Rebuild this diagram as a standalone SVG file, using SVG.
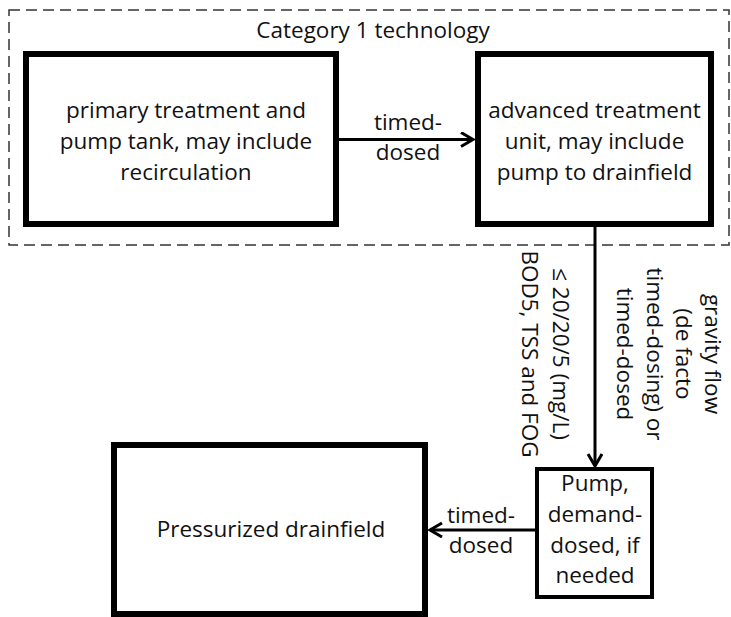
<svg xmlns="http://www.w3.org/2000/svg" width="731" height="617" viewBox="0 0 731 617">
<defs>
<style>
text{font-family:"Open Sans","Noto Sans","Liberation Sans",sans-serif;font-size:22.5px;fill:#111;text-anchor:middle}
.box{fill:#fff;stroke:#000;stroke-width:6}
.thin{fill:#fff;stroke:#000;stroke-width:4}
.con{fill:none;stroke:#000;stroke-width:3}
.dash{fill:none;stroke:#333;stroke-width:1.5;stroke-dasharray:11 6}
</style>
<marker id="ah" markerUnits="userSpaceOnUse" markerWidth="16" markerHeight="18" refX="13" refY="8" orient="auto">
<path d="M1,1 L13,8 L1,15" fill="none" stroke="#000" stroke-width="3"/>
</marker>
</defs>
<rect width="731" height="617" fill="#fff"/>
<g id="category1">
<rect class="dash" x="9" y="10" width="720" height="235"/>
<text x="373" y="38" font-size="21.7">Category 1 technology</text>
</g>
<g id="connectors">
<line class="con" x1="339" y1="139.5" x2="473" y2="139.5" marker-end="url(#ah)"/>
<text x="408" y="130">timed-</text>
<text x="408" y="160">dosed</text>
<line class="con" x1="595" y1="227" x2="595" y2="466" marker-end="url(#ah)"/>
<text x="553" y="354" transform="rotate(90 553 354)">≤ 20/20/5 (mg/L)</text>
<text x="522" y="354" transform="rotate(90 522 354)">BOD5, TSS and FOG</text>
<text x="705" y="354" transform="rotate(90 705 354)" font-size="22">gravity flow</text>
<text x="676" y="354" transform="rotate(90 676 354)">(de facto</text>
<text x="647" y="354" transform="rotate(90 647 354)">timed-dosing) or</text>
<text x="617" y="354" transform="rotate(90 617 354)">timed-dosed</text>
<line class="con" x1="535" y1="530" x2="430" y2="530" marker-end="url(#ah)"/>
<text x="481" y="523">timed-</text>
<text x="481" y="553">dosed</text>
</g>
<g id="primary">
<rect class="box" x="26" y="54" width="310" height="170"/>
<text x="186" y="118">primary treatment and</text>
<text x="186" y="149">pump tank, may include</text>
<text x="186" y="180">recirculation</text>
</g>
<g id="advanced">
<rect class="box" x="478" y="54" width="233" height="170"/>
<text x="594.5" y="118">advanced treatment</text>
<text x="594.5" y="149">unit, may include</text>
<text x="594.5" y="180">pump to drainfield</text>
</g>
<g id="pump">
<rect class="thin" x="537" y="469" width="115" height="128"/>
<text x="595" y="491">Pump,</text>
<text x="595" y="522">demand-</text>
<text x="595" y="553">dosed, if</text>
<text x="595" y="583">needed</text>
</g>
<g id="drainfield">
<rect class="box" x="114" y="445" width="311" height="169"/>
<text x="271" y="537">Pressurized drainfield</text>
</g>
</svg>
